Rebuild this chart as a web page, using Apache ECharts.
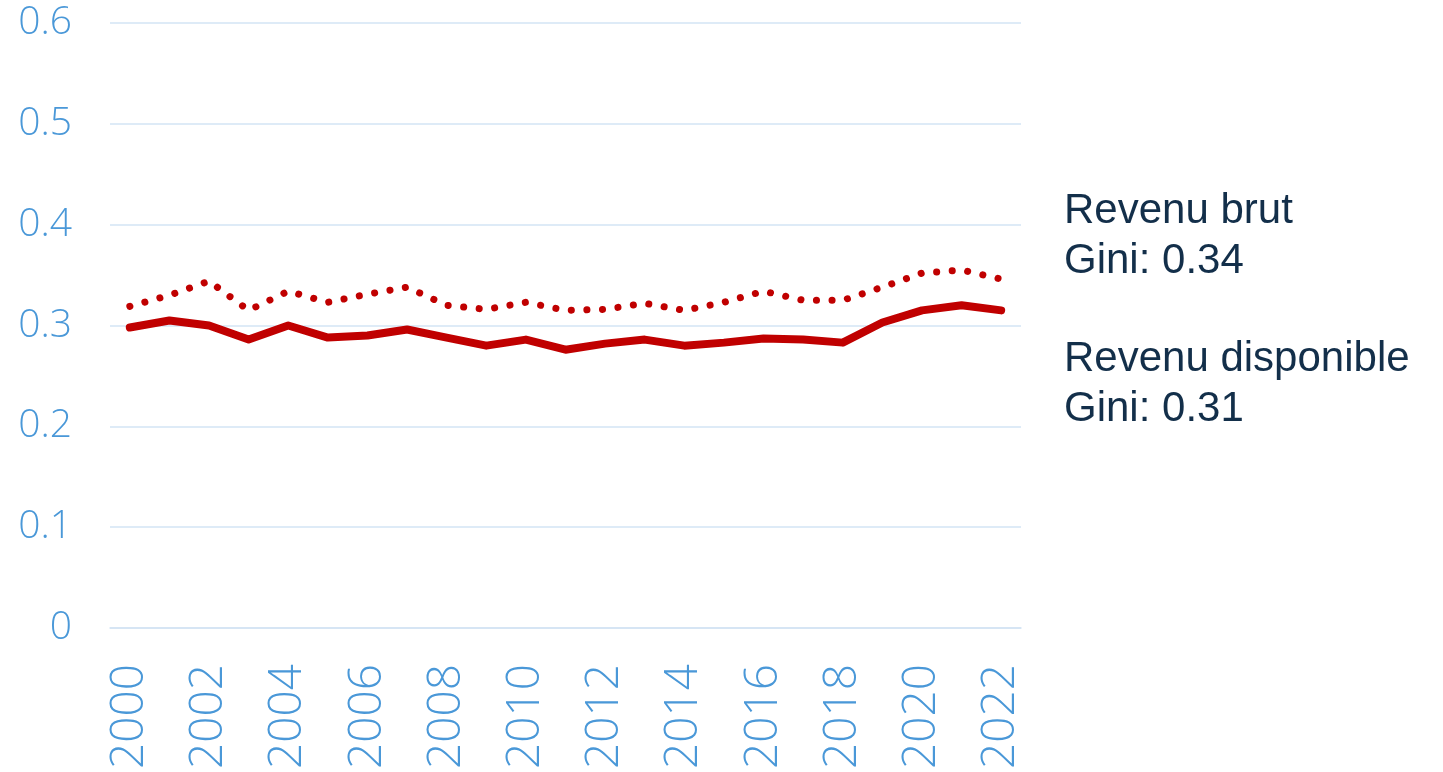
<!DOCTYPE html>
<html>
<head>
<meta charset="utf-8">
<script src="https://cdn.jsdelivr.net/npm/echarts@6/dist/echarts.min.js"></script>
<style>
  html, body { margin: 0; padding: 0; background: #fff; }
  #chart { width: 1443px; height: 772px; }
</style>
</head>
<body>
<div id="chart"></div>
<script>
const years = ['2000', '2001', '2002', '2003', '2004', '2005', '2006', '2007', '2008', '2009', '2010', '2011',
  '2012', '2013', '2014', '2015', '2016', '2017', '2018', '2019', '2020', '2021', '2022'];
// Gini, revenu brut (dotted)
const brut = [0.319, 0.330, 0.344, 0.315, 0.334, 0.323, 0.331, 0.338, 0.320, 0.316, 0.323, 0.315,
  0.316, 0.322, 0.315, 0.323, 0.334, 0.325, 0.325, 0.338, 0.352, 0.355, 0.346];
// Gini, revenu disponible (solid)
const disponible = [0.298, 0.305, 0.300, 0.286, 0.300, 0.288, 0.290, 0.296, 0.288, 0.280, 0.286, 0.276,
  0.282, 0.286, 0.280, 0.283, 0.287, 0.286, 0.283, 0.303, 0.315, 0.320, 0.315];
const notes = [
  ['Revenu brut', 'Gini: 0.34'],
  ['Revenu disponible', 'Gini: 0.31']
];

const red = '#c00000';
const axisBlue = '#4a98d8';
const gridBlue = '#d3e4f4';
const navy = '#132f4a';

const chart = echarts.init(document.getElementById('chart'), null, { renderer: 'canvas' });

const noteTexts = [];
notes.forEach((pair, i) => {
  pair.forEach((t, j) => {
    noteTexts.push({
      type: 'text',
      left: 1064,
      top: 190 + i * 148 + j * 50,
      style: { text: t, fill: navy, font: '42px "Liberation Sans", Arial, sans-serif' }
    });
  });
});

chart.setOption({
  animation: false,
  grid: { left: 110, right: 422, top: 23, bottom: 144, containLabel: false },
  xAxis: {
    type: 'category',
    data: years,
    boundaryGap: true,
    axisLine: { show: true, lineStyle: { color: gridBlue, width: 1.5 } },
    axisTick: { show: false },
    axisLabel: {
      interval: 1,
      rotate: 90,
      margin: 36,
      color: axisBlue,
      fontSize: 46,
      fontWeight: 300,
      fontFamily: '"Open Sans", sans-serif'
    }
  },
  yAxis: {
    type: 'value',
    min: 0,
    max: 0.6,
    interval: 0.1,
    axisLine: { show: false },
    axisTick: { show: false },
    splitLine: { lineStyle: { color: gridBlue, width: 1.5 } },
    axisLabel: {
      margin: 38,
      color: axisBlue,
      fontSize: 39,
      fontWeight: 300,
      fontFamily: '"Open Sans", sans-serif',
      formatter: v => (v === 0 ? '0' : String(Math.round(v * 10) / 10))
    }
  },
  series: [
    {
      name: 'Revenu brut',
      type: 'line',
      data: brut,
      symbol: 'none',
      lineStyle: { color: red, width: 7, type: [0.1, 15.5], cap: 'round' }
    },
    {
      name: 'Revenu disponible',
      type: 'line',
      data: disponible,
      symbol: 'none',
      lineStyle: { color: red, width: 8, cap: 'round', join: 'round' }
    }
  ],
  graphic: noteTexts
});

window.addEventListener('resize', () => chart.resize());
</script>
</body>
</html>
